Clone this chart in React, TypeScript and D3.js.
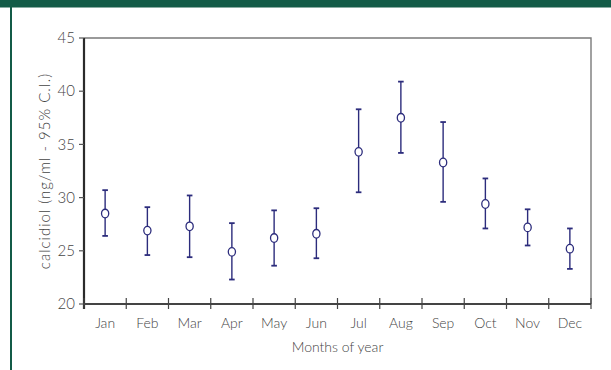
import { useEffect, useRef } from 'react';
import * as d3 from 'd3';

// Monthly calcidiol means with 95% confidence limits
const months = ['Jan', 'Feb', 'Mar', 'Apr', 'May', 'Jun', 'Jul', 'Aug', 'Sep', 'Oct', 'Nov', 'Dec'];
const means = [28.5, 26.9, 27.3, 24.9, 26.2, 26.6, 34.3, 37.5, 33.3, 29.4, 27.2, 25.2];
const upper = [30.7, 29.1, 30.2, 27.6, 28.8, 29.0, 38.3, 40.9, 37.1, 31.8, 28.9, 27.1];
const lower = [26.4, 24.6, 24.4, 22.3, 23.6, 24.3, 30.5, 34.2, 29.6, 27.1, 25.5, 23.3];
const yTicks = [20, 25, 30, 35, 40, 45];

const W = 611;
const H = 370;
const FONT = 'Lato, "Open Sans", sans-serif';

export default function App() {
  const svgRef = useRef<SVGSVGElement>(null);

  useEffect(() => {
    if (!svgRef.current) return;
    const svg = d3.select(svgRef.current);
    svg.selectAll('*').remove();

    const margin = { top: 38, right: 20, bottom: 66, left: 84 };
    const width = W - margin.left - margin.right;
    const height = H - margin.top - margin.bottom;

    // frame decoration
    svg.append('rect').attr('x', 0).attr('y', 0).attr('width', W).attr('height', H).attr('fill', '#fff');
    svg.append('rect').attr('x', 0).attr('y', 0).attr('width', W).attr('height', 7.5).attr('fill', '#135b47');
    svg.append('rect').attr('x', 10).attr('y', 0).attr('width', 2).attr('height', H).attr('fill', '#135b47');

    const g = svg.append('g').attr('transform', `translate(${margin.left},${margin.top})`);

    const x = d3.scaleBand().domain(months).range([0, width]);
    const y = d3.scaleLinear().domain([20, 45]).range([height, 0]);

    // top and right frame
    g.append('path')
      .attr('d', `M0,${y(45)}H${width}V${height}`)
      .attr('fill', 'none').attr('stroke', '#7a7a7a').attr('stroke-width', 1.4);

    // y axis
    g.append('line').attr('x1', 0).attr('x2', 0).attr('y1', y(45)).attr('y2', height + 5)
      .attr('stroke', '#2b2b2b').attr('stroke-width', 2.2);
    g.selectAll('.ytick').data(yTicks).join('line')
      .attr('x1', -5).attr('x2', 0).attr('y1', d => y(d)).attr('y2', d => y(d))
      .attr('stroke', '#555').attr('stroke-width', 1.2);
    g.selectAll('.ylab').data(yTicks).join('text')
      .attr('x', -9).attr('y', d => y(d)).attr('dy', '0.35em')
      .attr('text-anchor', 'end').style('font-size', '15px').style('font-family', FONT)
      .style('font-weight', 300).style('fill', '#444').text(d => d);

    // x axis
    g.append('line').attr('x1', 0).attr('x2', width).attr('y1', height).attr('y2', height)
      .attr('stroke', '#444').attr('stroke-width', 2.2);
    const bounds = months.map(m => x(m) as number).concat([width]);
    g.selectAll('.xtick').data(bounds).join('line')
      .attr('x1', d => d).attr('x2', d => d).attr('y1', height - 6).attr('y2', height + 5)
      .attr('stroke', '#444').attr('stroke-width', 1.2);
    g.selectAll('.xlab').data(months).join('text')
      .attr('x', d => (x(d) as number) + x.bandwidth() / 2).attr('y', height + 19)
      .attr('dy', '0.35em').attr('text-anchor', 'middle')
      .style('font-size', '14px').style('font-family', FONT).style('font-weight', 300)
      .style('fill', '#444').text(d => d);

    // axis titles
    g.append('text').attr('x', width / 2).attr('y', height + 43).attr('dy', '0.35em')
      .attr('text-anchor', 'middle').style('font-size', '14px').style('font-family', FONT)
      .style('font-weight', 300).style('fill', '#444').text('Months of year');
    g.append('text')
      .attr('transform', `translate(${-39},${height / 2}) rotate(-90)`)
      .attr('dy', '0.35em').attr('text-anchor', 'middle')
      .style('font-size', '15px').style('letter-spacing', '1px')
      .style('font-family', FONT).style('font-weight', 300)
      .style('fill', '#444').text('calcidiol (ng/ml - 95% C.I.)');

    // error bars
    const navy = '#2c2c7c';
    const cx = (i: number) => (x(months[i]) as number) + x.bandwidth() / 2;
    const bars = g.append('g');
    months.forEach((_, i) => {
      bars.append('line').attr('x1', cx(i)).attr('x2', cx(i))
        .attr('y1', y(upper[i])).attr('y2', y(lower[i]))
        .attr('stroke', navy).attr('stroke-width', 1.4);
      [upper[i], lower[i]].forEach(v => {
        bars.append('line').attr('x1', cx(i) - 2.8).attr('x2', cx(i) + 2.8)
          .attr('y1', y(v)).attr('y2', y(v))
          .attr('stroke', navy).attr('stroke-width', 1.8);
      });
      bars.append('ellipse').attr('cx', cx(i)).attr('cy', y(means[i]))
        .attr('rx', 3.6).attr('ry', 4.3)
        .attr('fill', '#fff').attr('stroke', navy).attr('stroke-width', 1.3);
    });
  }, []);

  return (
    <svg ref={svgRef} width={W} height={H}
      style={{ position: 'absolute', left: 0, top: 0, display: 'block' }} />
  );
}
